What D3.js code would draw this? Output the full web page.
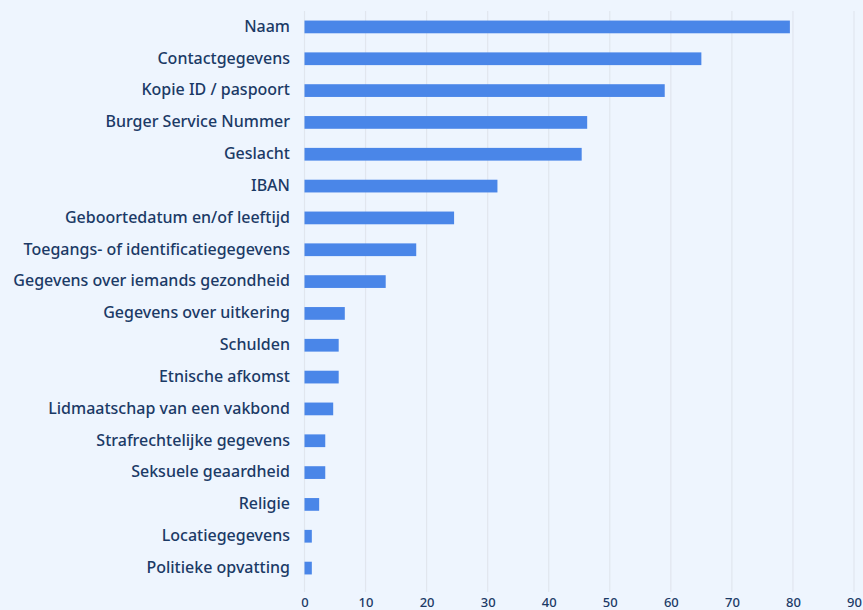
<!DOCTYPE html>
<html>
<head>
<meta charset="utf-8">
<script src="https://cdn.jsdelivr.net/npm/d3@7"></script>
<style>
  html, body { margin: 0; padding: 0; background: #eef5fe; }
  svg { display: block; }
</style>
</head>
<body>
<div id="chart"></div>
<script>
const categories = [
  "Naam", "Contactgegevens", "Kopie ID / paspoort", "Burger Service Nummer",
  "Geslacht", "IBAN", "Geboortedatum en/of leeftijd", "Toegangs- of identificatiegegevens",
  "Gegevens over iemands gezondheid", "Gegevens over uitkering", "Schulden",
  "Etnische afkomst", "Lidmaatschap van een vakbond", "Strafrechtelijke gegevens",
  "Seksuele geaardheid", "Religie", "Locatiegegevens", "Politieke opvatting"
];
const values = [79.5, 65, 59, 46.3, 45.4, 31.6, 24.5, 18.3, 13.3, 6.6, 5.6, 5.6, 4.7, 3.4, 3.4, 2.4, 1.2, 1.2];
const xTicks = [0, 10, 20, 30, 40, 50, 60, 70, 80, 90];

const width = 863, height = 610;
const margin = { top: 11, right: 9, bottom: 26, left: 304.5 };

const svg = d3.select("#chart").append("svg")
  .attr("width", width)
  .attr("height", height);

const x = d3.scaleLinear().domain([0, 90]).range([margin.left, width - margin.right]);
const y = d3.scaleBand().domain(categories)
  .range([margin.top, height - margin.bottom])
  .paddingInner(0.6).paddingOuter(0.3);

// grid
svg.append("g").selectAll("line")
  .data(xTicks)
  .enter().append("line")
  .attr("x1", d => x(d)).attr("x2", d => x(d))
  .attr("y1", 11).attr("y2", 592)
  .attr("stroke", "#e1e6ee")
  .attr("stroke-width", 1.2);

// bars
svg.append("g").selectAll("rect")
  .data(values)
  .enter().append("rect")
  .attr("x", x(0))
  .attr("y", (d, i) => y(categories[i]))
  .attr("width", d => x(d) - x(0))
  .attr("height", y.bandwidth())
  .attr("fill", "#4a86e8");

// category labels
svg.append("g").selectAll("text")
  .data(categories)
  .enter().append("text")
  .attr("x", 290)
  .attr("y", d => y(d) + y.bandwidth() / 2)
  .attr("dy", "0.3em")
  .attr("text-anchor", "end")
  .attr("font-family", "Noto Sans")
  .attr("font-size", 16)
  .attr("font-weight", 500)
  .attr("fill", "#1b3a66")
  .text(d => d);

// x axis
const xAxis = d3.axisBottom(x).tickValues(xTicks).tickSize(0).tickPadding(0);
const gx = svg.append("g")
  .attr("transform", "translate(0,598)")
  .call(xAxis);
gx.select(".domain").remove();
gx.selectAll("text")
  .attr("font-family", "Noto Sans")
  .attr("font-size", 13)
  .attr("font-weight", 500)
  .attr("fill", "#1b3a66");
</script>
</body>
</html>
